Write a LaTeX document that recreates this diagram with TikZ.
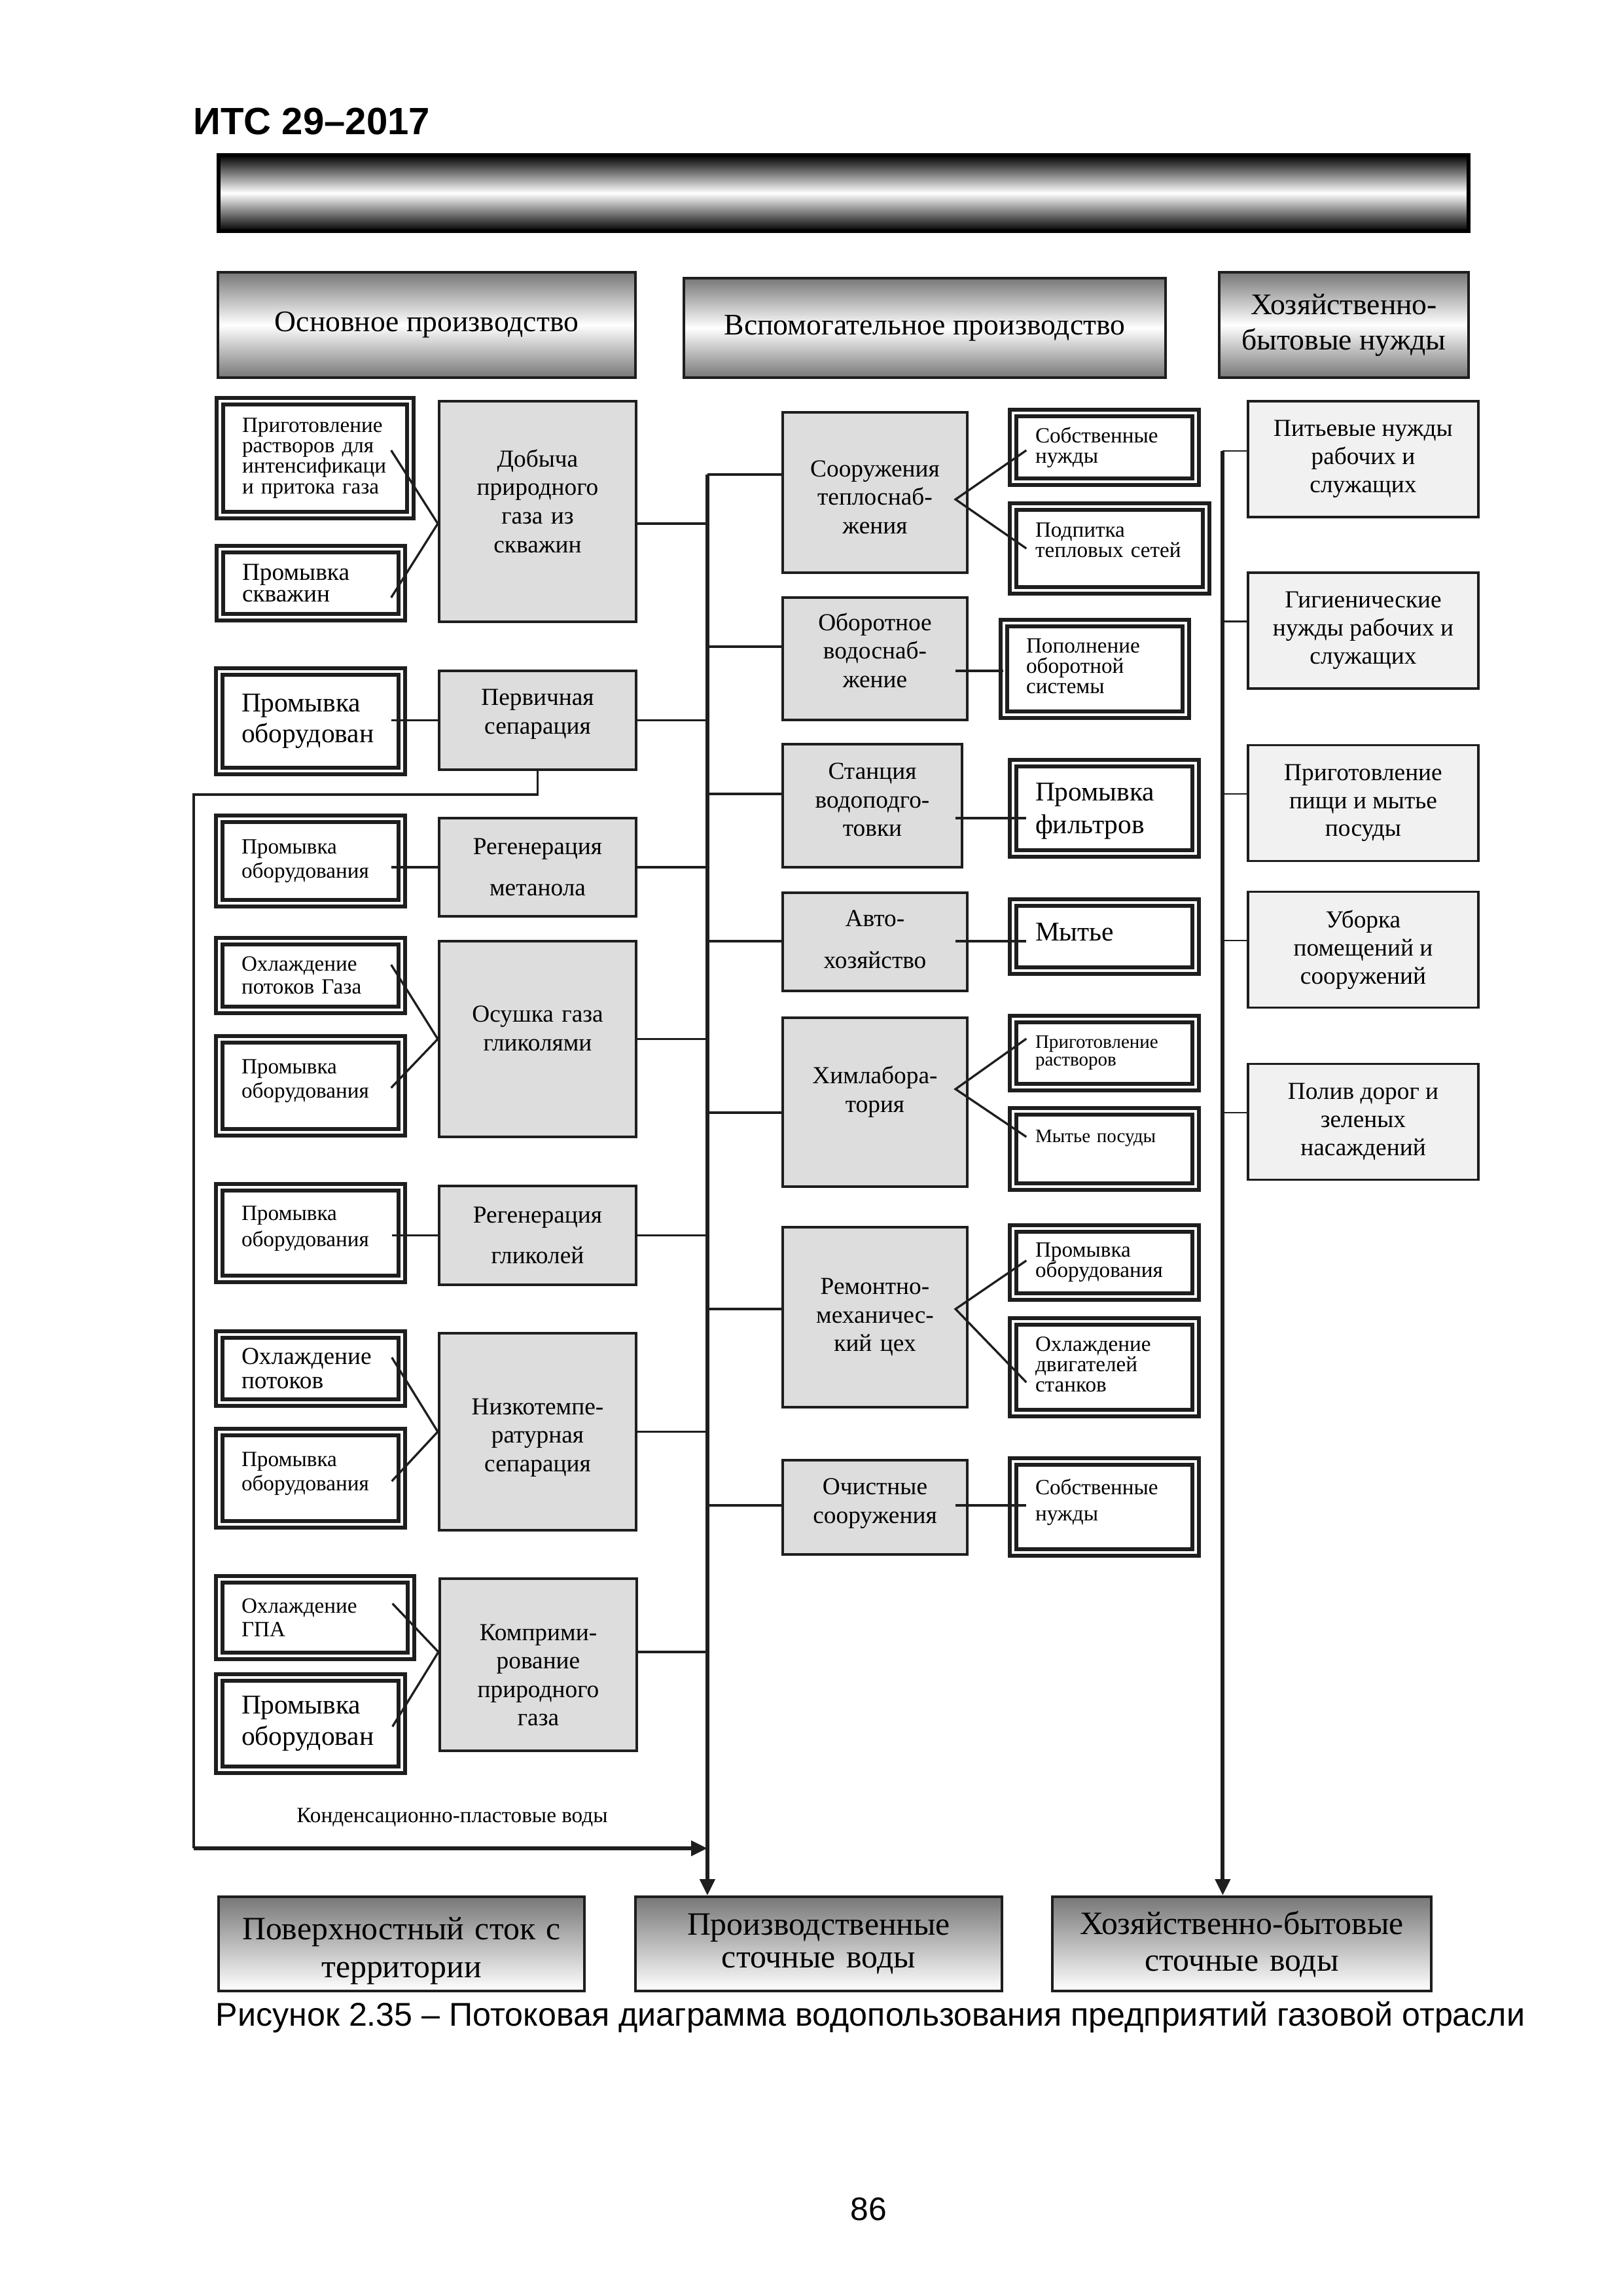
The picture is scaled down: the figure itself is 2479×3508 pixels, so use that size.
\documentclass[tikz,border=0pt]{standalone}
\usepackage{fontspec}
\setmainfont{Liberation Serif}
\newfontfamily\arial{Liberation Sans}
\usepackage{tikz}
\usetikzlibrary{arrows.meta}
\tikzset{every picture/.style={line width=0.75pt}}
\definecolor{boxgray}{HTML}{DDDDDD}
\definecolor{needgray}{HTML}{F1F1F1}
\definecolor{shadegray}{HTML}{777777}
\definecolor{ink}{HTML}{1E1E1E}
\newdimen\pxu
\pxu=0.084711mm
\lineskiplimit=-20pt
\newcommand{\liftby}[1]{\par\kern#1\pxu}
\tikzset{
  fs/.style 2 args={font=\fontsize{#1}{#2}\selectfont},
  gbox/.style 2 args={draw=ink, fill=boxgray, line width=1pt, align=center, inner sep=0pt, text width=#1*\pxu, minimum height=#2*\pxu, fs={9}{10.5}},
  dbox/.style 2 args={draw=ink, double, line width=1.3pt, double distance=1.1pt, fill=white, align=left, inner xsep=34*\pxu, inner ysep=0pt, text width=(#1-82)*\pxu, minimum height=(#2-14)*\pxu},
  nbox/.style={draw=ink, fill=needgray, line width=0.8pt, align=center, inner sep=0pt, minimum width=352*\pxu, minimum height=177*\pxu, fs={9}{10.3}},
  hbox/.style 2 args={draw=ink, line width=1pt, top color=shadegray, bottom color=shadegray, middle color=white, align=center, inner sep=0pt, minimum width=#1*\pxu, minimum height=#2*\pxu, fs={11}{13}},
  sbox/.style 2 args={draw=ink, line width=1pt, top color=shadegray, bottom color=white, align=center, inner sep=0pt, text width=#1*\pxu, minimum height=#2*\pxu, fs={12}{12}},
  feed/.style={draw=ink, line width=0.8pt},
  feedthin/.style={draw=ink, line width=0.6pt},
  main/.style={draw=ink, line width=1.4pt},
  flow/.style={-{Triangle[length=2.1mm,width=1.9mm]}},
}
\begin{document}
\begin{tikzpicture}[x=0.084711mm, y=-0.084711mm]
\path[use as bounding box, fill=white] (0,0) rectangle (2479,3508);
\node[anchor=west, inner sep=0pt, font=\arial\bfseries\fontsize{14}{16}\selectfont] (hdr) at (294,185) {ИТС 29–2017};
\node[draw=black, line width=1.5pt, top color=black, bottom color=black, middle color=white, inner sep=0pt, minimum width=1910*\pxu, minimum height=116*\pxu] (bar) at (1289,295) {};

\node[hbox={638}{161}] (h1) at (652,496.5) {Основное производство};
\node[hbox={736}{152}] (h2) at (1413,501) {Вспомогательное производство};
\node[hbox={381}{161}] (h3) at (2053.5,496.5) {Хозяйственно-\\бытовые нужды};

\node[dbox={305}{188}, fs={8}{7.5}] (d1) at (481.5,700) {Приготовление\\растворов~для\\интенсификаци\\и~притока~газа};
\node[dbox={292}{118}, fs={9}{8}] (d2) at (475,891) {Промывка\\скважин};
\node[dbox={293}{166}, fs={10}{11.3}] (d3) at (474.5,1102) {Промывка\\оборудован};
\node[dbox={293}{143}, fs={8}{9}] (d4) at (474.5,1315.5) {Промывка\\оборудования};
\node[dbox={293}{119}, fs={8}{8.5}] (d5) at (474.5,1490.5) {Охлаждение\\потоков~Газа};
\node[dbox={293}{156}, fs={8}{9}] (d6) at (474.5,1659) {Промывка\\оборудования\liftby{14}};
\node[dbox={293}{154}, fs={8}{9.5}] (d7) at (474.5,1884) {Промывка\\оборудования\liftby{14}};
\node[dbox={293}{118}, fs={9}{9}] (d8) at (474.5,2091) {Охлаждение\\потоков};
\node[dbox={293}{155}, fs={8}{9}] (d9) at (474.5,2258.5) {Промывка\\оборудования\liftby{14}};
\node[dbox={307}{131}, fs={8}{8.5}] (d10) at (481.5,2471.5) {Охлаждение\\ГПА};
\node[dbox={293}{155}, fs={10}{11.5}] (d11) at (474.5,2633.5) {Промывка\\оборудован};

\node[gbox={301}{337}] (g1) at (821.5,781.5) {Добыча\\природного\\газа из\\скважин\liftby{32}};
\node[gbox={301}{151}] (g2) at (821.5,1100.5) {Первичная\\сепарация\liftby{18}};
\node[gbox={301}{150}] (g3) at (821.5,1325) {Регенерация\\[4.5pt]метанола};
\node[gbox={301}{299}] (g4) at (821.5,1587.5) {Осушка газа\\гликолями\liftby{32}};
\node[gbox={301}{151}] (g5) at (821.5,1887.5) {Регенерация\\[4.5pt]гликолей};
\node[gbox={301}{301}] (g6) at (821.5,2187.5) {Низкотемпе-\\ратурная\\сепарация\liftby{-18}};
\node[gbox={301}{263}] (g7) at (822.5,2543.5) {Комприми-\\рование\\природного\\газа\liftby{-32}};

\node[gbox={282}{245}] (m1) at (1337,752.5) {Сооружения\\теплоснаб-\\жения\liftby{-14}};
\node[gbox={282}{187}] (m2) at (1337,1006.5) {Оборотное\\водоснаб-\\жение\liftby{26}};
\node[gbox={274}{188}] (m3) at (1333,1231) {Станция\\водоподго-\\товки\liftby{18}};
\node[gbox={282}{150}] (m4) at (1337,1439) {Авто-\\[5pt]хозяйство\liftby{8}};
\node[gbox={282}{258}] (m5) at (1337,1684) {Химлабора-\\тория\liftby{32}};
\node[gbox={282}{275}] (m6) at (1337,2012.5) {Ремонтно-\\механичес-\\кий цех};
\node[gbox={282}{144}] (m7) at (1337,2303) {Очистные\\сооружения\liftby{12}};

\node[dbox={293}{119}, fs={8}{7.5}] (e1) at (1687.5,683.5) {Собственные\\нужды};
\node[dbox={309}{142}, fs={8}{7.5}] (e2) at (1695.5,838) {Подпитка\\тепловых~сетей\liftby{26}};
\node[dbox={292}{154}, fs={8}{7.5}] (e3) at (1673,1022) {Пополнение\\оборотной\\системы\liftby{9}};
\node[dbox={293}{152}, fs={10}{12}] (e4) at (1687.5,1235) {Промывка\\фильтров\liftby{-8}};
\node[dbox={293}{118}, fs={10}{12}] (e5) at (1687.5,1431) {Мытье\liftby{14}};
\node[dbox={293}{118}, fs={7}{6.5}] (e6) at (1687.5,1609) {Приготовление\\растворов};
\node[dbox={293}{129}, fs={7}{6.5}] (e7) at (1687.5,1755.5) {Мытье~посуды\liftby{32}};
\node[dbox={293}{118}, fs={8}{7.5}] (e8) at (1687.5,1929) {Промывка\\оборудования};
\node[dbox={293}{154}, fs={8}{7.5}] (e9) at (1687.5,2089) {Охлаждение\\двигателей\\станков\liftby{9}};
\node[dbox={293}{153}, fs={8}{9.7}] (e10) at (1687.5,2302.5) {Собственные\\нужды\liftby{14}};

\node[nbox] (r1) at (2083,701.5) {Питьевые нужды\\рабочих и\\служащих};
\node[nbox] (r2) at (2083,963.5) {Гигиенические\\нужды рабочих и\\служащих};
\node[nbox] (r3) at (2083,1227) {Приготовление\\пищи и мытье\\посуды};
\node[nbox] (r4) at (2083,1451) {Уборка\\помещений и\\сооружений};
\node[nbox] (r5) at (2083,1714) {Полив дорог и\\зеленых\\насаждений};

\node[sbox={559}{144}] (b1) at (613.5,2970) {Поверхностный сток с\\[2pt]территории\liftby{-22}};
\node[sbox={560}{144}] (b2) at (1251,2970) {Производственные\\сточные воды};
\node[sbox={579}{144}] (b3) at (1897.5,2970) {Хозяйственно-бытовые\\[1.5pt]сточные воды};

\coordinate (t1) at ([shift={(-113,-27.5)}]m1.west);
\coordinate (t2) at ([shift={(-37,-12.5)}]r1.west);
\coordinate (k1) at (296,1214);
\coordinate (k2) at (296,2824);
\coordinate (pg1) at ([shift={(0,18.5)}]g1.east);
\coordinate (pg7) at ([shift={(0,-19.5)}]g7.east);

\draw[feed] ([shift={(-32,-12)}]d1.east) -- ([shift={(0,18.5)}]g1.west) -- ([shift={(-19,22)}]d2.east);
\draw[feed] ([shift={(-19,-1.5)}]d3.east) -- (g2.west);
\draw[feed] ([shift={(-19,9.5)}]d4.east) -- (g3.west);
\draw[feed] ([shift={(-19,-16.5)}]d5.east) -- (g4.west) -- ([shift={(-19,3)}]d6.east);
\draw[feed] ([shift={(-18,3.5)}]d7.east) -- (g5.west);
\draw[feed] ([shift={(-18,-17)}]d8.east) -- (g6.west) -- ([shift={(-18,4.5)}]d9.east);
\draw[feed] ([shift={(-31,-21.5)}]d10.east) -- ([shift={(0,-19.5)}]g7.west) -- ([shift={(-17,4.5)}]d11.east);
\draw[feed] (pg1) -- (pg1 -| t1);
\draw[feed] (pg7) -- (pg7 -| t1);
\foreach \n in {g2,g3,g4,g5,g6}
  \draw[feed] (\n.east) -- (\n.east -| t1);

\draw[feed] (t1) -- (t1 -| m1.west);
\foreach \n/\dy in {m2/-18.5, m3/-18, m4/-1, m5/16, m6/-12.5, m7/-3} {
  \coordinate (p\n) at ([shift={(0,\dy)}]\n.west);
  \draw[feed] (p\n -| t1) -- (p\n);
}
\draw[main, flow] (t1) -- (t1 |- b2.north);

\draw[feed] ([shift={(23,4.5)}]e1.west) -- ([shift={(-20,10.5)}]m1.east) -- ([shift={(23,0)}]e2.west);
\draw[feed] ([shift={(-20,18.5)}]m2.east) -- ([shift={(2,3)}]e3.west);
\draw[feed] ([shift={(-12,19)}]m3.east) -- ([shift={(23,15)}]e4.west);
\draw[feed] ([shift={(-20,-1)}]m4.east) -- ([shift={(23,7)}]e5.west);
\draw[feed] ([shift={(23,-22)}]e6.west) -- ([shift={(-20,-20)}]m5.east) -- ([shift={(23,-18.5)}]e7.west);
\draw[feed] ([shift={(23,-3)}]e8.west) -- ([shift={(-20,-12.5)}]m6.east) -- ([shift={(23,23)}]e9.west);
\draw[feed] ([shift={(-20,-3)}]m7.east) -- ([shift={(23,-2.5)}]e10.west);

\draw[feedthin] (t2) -- (t2 -| r1.west);
\foreach \n in {r2,r3,r4,r5} {
  \coordinate (p\n) at ([shift={(0,-14)}]\n.west);
  \draw[feedthin] (p\n -| t2) -- (p\n);
}
\draw[main, flow] (t2) -- (t2 |- b3.north);

\draw[feed] (g2.south) |- (k1) -- (k2);
\draw[main, flow] (k2) -- (k2 -| t1);
\node[fs={8}{9}] (kpv) at (691,2777) {Конденсационно-пластовые воды};

\node[font=\arial\fontsize{12.1}{14}\selectfont] (cap) at (1330,3082) {Рисунок 2.35 – Потоковая диаграмма водопользования предприятий газовой отрасли};
\node[font=\arial\fontsize{12}{14}\selectfont] (pg) at (1327,3375) {86};
\end{tikzpicture}
\end{document}
